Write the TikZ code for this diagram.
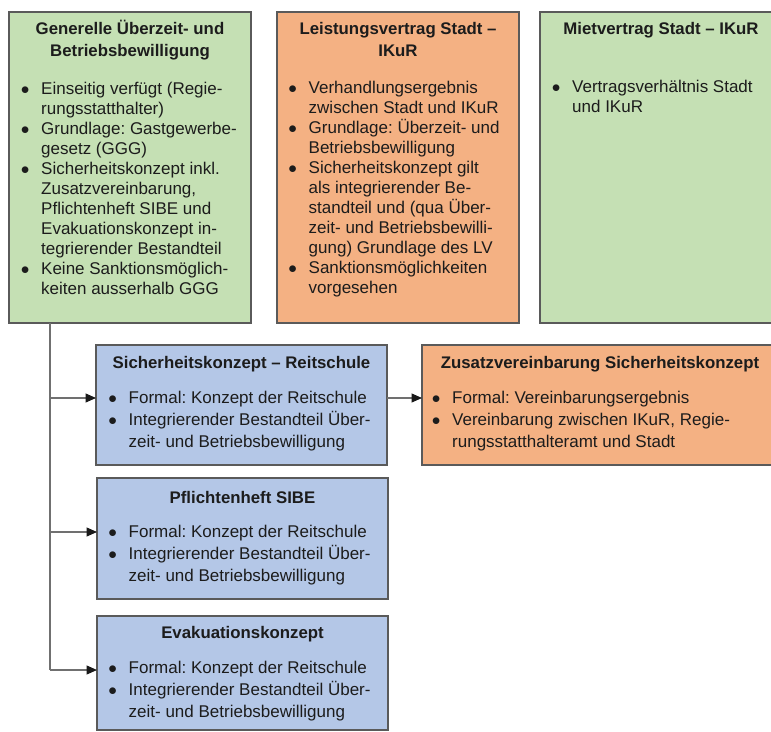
\documentclass[tikz,border=0pt]{standalone}
\usepackage{fontspec}
\setmainfont{Liberation Sans}
\usetikzlibrary{arrows.meta}
\frenchspacing
\definecolor{gfill}{HTML}{C5E0B4}
\definecolor{ofill}{HTML}{F4B183}
\definecolor{bfill}{HTML}{B4C7E7}
\definecolor{bline}{HTML}{5A5A5A}
\definecolor{cline}{HTML}{707070}
\definecolor{txt}{HTML}{1C1C1C}
\newcommand\tstrut{\rule{0pt}{16pt}}
\newcommand\bi{\makebox[20.25pt][l]{$\bullet$}}
\newcommand\ci{\hspace*{20.25pt}}
\tikzset{
  box/.style={draw=bline, line width=1.2pt, anchor=north west, inner sep=0pt, outer sep=0pt},
  ttl/.style={anchor=north, align=center, inner sep=0pt, text=txt, font=\bfseries\fontsize{16.8}{22}\selectfont},
  bodytop/.style={anchor=north west, align=left, inner sep=0pt, text=txt, font=\fontsize{17}{20}\selectfont},
  bodylow/.style={anchor=north west, align=left, inner sep=0pt, text=txt, font=\fontsize{17}{22}\selectfont},
  trunk/.style={draw=cline, line width=1.2pt},
  arr/.style={draw=cline, line width=1.2pt, -{Triangle[length=10.5pt,width=9pt,fill=black!90,color=black!90]}}
}
\begin{document}
\begin{tikzpicture}[x=1pt,y=-1pt]
\useasboundingbox (0,0) rectangle (771,731);
\clip (0,0) rectangle (771,731);
\fill[white] (0,0) rectangle (771,731);
% boxes
\node[box, fill=gfill, minimum width=242pt, minimum height=311pt] (gen) at (9,12) {};
\node[box, fill=ofill, minimum width=242pt, minimum height=311pt] (lv) at (277,12) {};
\node[box, fill=gfill, minimum width=242pt, minimum height=311pt] (miet) at (540,12) {};
\node[box, fill=bfill, minimum width=291pt, minimum height=120pt] (sk) at (96,345) {};
\node[box, fill=ofill, minimum width=356pt, minimum height=120pt] (zv) at (422,345) {};
\node[box, fill=bfill, minimum width=291pt, minimum height=121pt] (pf) at (97,478) {};
\node[box, fill=bfill, minimum width=291pt, minimum height=114pt] (ev) at (97,616) {};
% titles
\node[ttl] (genT) at (130,18) {\tstrut Generelle Überzeit- und\\Betriebsbewilligung};
\node[ttl] (lvT) at (398,18) {\tstrut Leistungsvertrag Stadt –\\IKuR};
\node[ttl] (mietT) at (661,18) {\tstrut Mietvertrag Stadt – IKuR};
\node[ttl] (skT) at (241.5,352) {\tstrut Sicherheitskonzept – Reitschule};
\node[ttl] (zvT) at (600,352) {\tstrut Zusatzvereinbarung Sicherheitskonzept};
\node[ttl] (pfT) at (242.5,487) {\tstrut Pflichtenheft SIBE};
\node[ttl] (evT) at (242.5,622) {\tstrut Evakuationskonzept};
% bodies
\node[bodytop] (genB) at (20.75,78) {\tstrut\bi Einseitig verfügt (Regie-\\\ci rungsstatthalter)\\\bi Grundlage: Gastgewerbe-\\\ci gesetz (GGG)\\\bi Sicherheitskonzept inkl.\\\ci Zusatzvereinbarung,\\\ci Pflichtenheft SIBE und\\\ci Evakuationskonzept in-\\\ci tegrierender Bestandteil\\\bi Keine Sanktionsmöglich-\\\ci keiten ausserhalb GGG};
\node[bodytop] (lvB) at (288.25,77) {\tstrut\bi Verhandlungsergebnis\\\ci zwischen Stadt und IKuR\\\bi Grundlage: Überzeit- und\\\ci Betriebsbewilligung\\\bi Sicherheitskonzept gilt\\\ci als integrierender Be-\\\ci standteil und (qua Über-\\\ci zeit- und Betriebsbewilli-\\\ci gung) Grundlage des LV\\\bi Sanktionsmöglichkeiten\\\ci vorgesehen};
\node[bodytop] (mietB) at (551.75,76) {\tstrut\bi Vertragsverhältnis Stadt\\\ci und IKuR};
\node[bodylow] (skB) at (108.25,387) {\tstrut\bi Formal: Konzept der Reitschule\\\bi Integrierender Bestandteil Über-\\\ci zeit- und Betriebsbewilligung};
\node[bodylow] (zvB) at (431.75,387) {\tstrut\bi Formal: Vereinbarungsergebnis\\\bi Vereinbarung zwischen IKuR, Regie-\\\ci rungsstatthalteramt und Stadt};
\node[bodylow] (pfB) at (108.25,521) {\tstrut\bi Formal: Konzept der Reitschule\\\bi Integrierender Bestandteil Über-\\\ci zeit- und Betriebsbewilligung};
\node[bodylow] (evB) at (108.25,657) {\tstrut\bi Formal: Konzept der Reitschule\\\bi Integrierender Bestandteil Über-\\\ci zeit- und Betriebsbewilligung};
% connectors
\coordinate (tTop) at (50,323);
\coordinate (j1) at (50,398);
\coordinate (j2) at (50,532);
\coordinate (j3) at (50,670);
\draw[trunk] (tTop) -- (j3);
\draw[arr] (j1) -- (j1 -| sk.west);
\draw[arr] (j2) -- (j2 -| pf.west);
\draw[arr] (j3) -- (j3 -| ev.west);
\draw[arr] (j1 -| sk.east) -- (j1 -| zv.west);
\end{tikzpicture}
\end{document}
